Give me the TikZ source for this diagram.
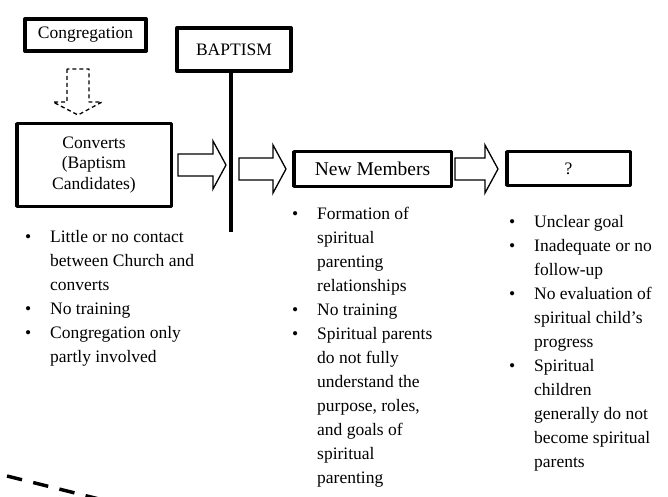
\documentclass[tikz,border=0pt]{standalone}
\usepackage{fontspec}
\setmainfont{Liberation Serif}
\usetikzlibrary{calc}
\tikzset{
  stagebox/.style={draw,line width=3.5pt,inner sep=0pt,align=center,
    font=\fontsize{17.5}{20.5}\selectfont},
  blockarrow/.style={draw,line width=1.3pt,line join=miter},
  dasharrow/.style={draw,line width=1.3pt,dash pattern=on 4pt off 3pt},
  notelist/.style={anchor=north west,inner sep=0pt,
    font=\fontsize{17.5}{24}\selectfont},
}
% block arrow: from #1 (tail, gives the height) to the x of #2 (tip)
\newcommand{\blockarrow}[2]{%
  \draw[blockarrow] let \p1=(#1), \p2=(#2) in
    (\x1,\y1+11) -- (\x2-13,\y1+11) -- (\x2-13,\y1+24) -- (\x2,\y1)
    -- (\x2-13,\y1-24) -- (\x2-13,\y1-11) -- (\x1,\y1-11) -- cycle;}
\begin{document}
\begin{tikzpicture}[x=1pt,y=1pt,line join=round]
\useasboundingbox (0,0) rectangle (668,496);

\node[stagebox,line width=4pt,minimum width=121,minimum height=32] (cong) at (85.5,461) {Congregation};
\node[stagebox,line width=4pt,minimum width=114,minimum height=43] (bap) at (234,446.5) {BAPTISM};
\node[stagebox,minimum width=154.5,minimum height=82.5] (conv) at (94,331) {Converts\\(Baptism\\Candidates)};
\node[stagebox,minimum width=157.5,minimum height=34.5,font=\fontsize{19.5}{22}\selectfont] (nm) at (372.5,327) {New Members};
\node[stagebox,minimum width=123.5,minimum height=33.5] (q) at (568.5,327.5) {?};

% baptism line
\coordinate (bapbot) at (231,264);
\draw[line width=4pt] (bap.south -| bapbot) -- (bapbot);

% dashed arrow from the congregation
\coordinate (dtop) at (78,427);
\draw[dasharrow] ([xshift=-11pt]dtop) -- ++(0,-33) -- ++(-14,0) -- ++(25,-13)
  -- ++(24,13) -- ++(-13,0) -- ++(0,33) -- cycle;

\blockarrow{[xshift=5pt]conv.east}{[xshift=-5pt]bapbot}
\blockarrow{[xshift=8pt]bapbot |- nm.west}{[xshift=-6pt]nm.west}
\blockarrow{[xshift=2pt]nm.east}{[xshift=-7pt]q.west}

\node[notelist] (notes1) at (25,271) {\begin{tabular}{@{}p{25pt}@{}l@{}}
\textbullet & Little or no contact\\
 & between Church and\\
 & converts\\
\textbullet & No training\\
\textbullet & Congregation only\\
 & partly involved
\end{tabular}};
\node[notelist] (notes2) at (292,294) {\begin{tabular}{@{}p{25pt}@{}l@{}}
\textbullet & Formation of\\
 & spiritual\\
 & parenting\\
 & relationships\\
\textbullet & No training\\
\textbullet & Spiritual parents\\
 & do not fully\\
 & understand the\\
 & purpose, roles,\\
 & and goals of\\
 & spiritual\\
 & parenting
\end{tabular}};
\node[notelist] (notes3) at (509,286) {\begin{tabular}{@{}p{25pt}@{}l@{}}
\textbullet & Unclear goal\\
\textbullet & Inadequate or no\\
 & follow-up\\
\textbullet & No evaluation of\\
 & spiritual child’s\\
 & progress\\
\textbullet & Spiritual\\
 & children\\
 & generally do not\\
 & become spiritual\\
 & parents
\end{tabular}};

\draw[line width=3.5pt,dash pattern=on 15.5pt off 11.5pt] (7,20) -- (100,-3.25);
\end{tikzpicture}
\end{document}
